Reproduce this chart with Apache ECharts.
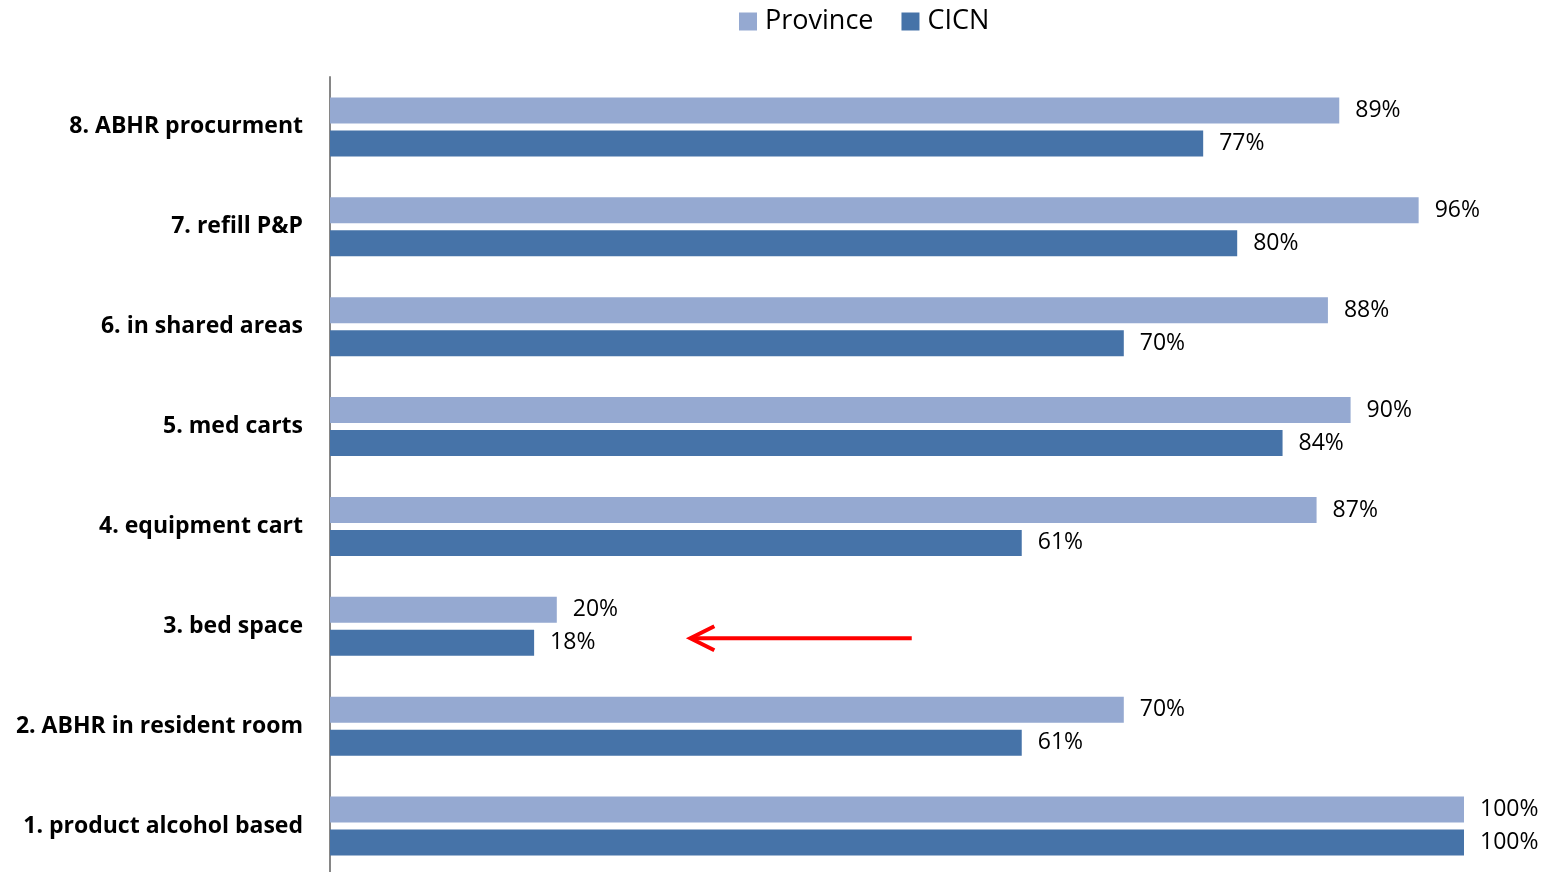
<!DOCTYPE html>
<html>
<head>
    <meta charset="utf-8">
    <title>ECharts</title>
    <script src="https://cdn.jsdelivr.net/npm/echarts@6/dist/echarts.min.js"></script>
    <style>
        html, body { margin: 0; padding: 0; background: #fff; overflow: hidden; }
    </style>
</head>
<body>
    <!-- a little taller than the window so the last band is not squeezed -->
    <div id="main" style="width: 1548px;height:880px;"></div>
    <script type="text/javascript">
        var myChart = echarts.init(document.getElementById('main'));

        // categories, bottom to top
        var categories = [
            '1. product alcohol based',
            '2. ABHR in resident room',
            '3. bed space',
            '4. equipment cart',
            '5. med carts',
            '6. in shared areas',
            '7. refill P&P',
            '8. ABHR procurment'
        ];
        var province = [100, 70, 20, 87, 90, 88, 96, 89];
        var cicn = [100, 61, 18, 61, 84, 70, 80, 77];

        // red arrow annotation (value, category): tail -> head
        var arrowTail = [51.3, '3. bed space'];
        var arrowHead = [31.6, '3. bed space'];

        var fontFamily = '"Open Sans", sans-serif';

        var labelOpt = {
            show: true,
            position: 'right',
            distance: 16,
            color: '#000',
            fontSize: 23,
            fontFamily: fontFamily,
            formatter: '{c}%'
        };

        option = {
            animation: false,
            backgroundColor: '#fff',
            legend: {
                data: ['Province', 'CICN'],
                top: 3,
                left: 734,
                itemWidth: 18,
                itemHeight: 18,
                itemGap: 28,
                icon: 'rect',
                textStyle: {
                    fontSize: 27,
                    color: '#000',
                    padding: [0, 0, 0, 3],
                    fontFamily: fontFamily
                }
            },
            grid: {
                left: 330,
                right: 84,
                top: 77,
                bottom: 4
            },
            xAxis: {
                type: 'value',
                min: 0,
                max: 100,
                show: false
            },
            yAxis: {
                type: 'category',
                data: categories,
                axisLine: {
                    lineStyle: { color: '#868686', width: 2 }
                },
                axisTick: { show: false },
                axisLabel: {
                    margin: 27,
                    color: '#000',
                    fontSize: 23,
                    fontWeight: 'bold',
                    fontFamily: fontFamily
                }
            },
            series: [{
                name: 'Province',
                type: 'bar',
                barGap: '27%',
                barCategoryGap: '41%',
                itemStyle: { color: '#95A9D1' },
                label: labelOpt,
                data: province
            }, {
                name: 'CICN',
                type: 'bar',
                barGap: '27%',
                barCategoryGap: '41%',
                itemStyle: { color: '#4673A8' },
                label: labelOpt,
                data: cicn
            }]
        };

        myChart.setOption(option);

        // draw the arrow next to the CICN bar of "3. bed space"
        var p1 = myChart.convertToPixel({ gridIndex: 0 }, arrowTail);
        var p2 = myChart.convertToPixel({ gridIndex: 0 }, arrowHead);
        var dy = 12;
        myChart.setOption({
            graphic: [{
                type: 'line',
                shape: { x1: p1[0], y1: p1[1] + dy, x2: p2[0] + 3, y2: p2[1] + dy },
                style: { stroke: '#FF0000', lineWidth: 4 }
            }, {
                type: 'polyline',
                shape: {
                    points: [
                        [p2[0] + 26, p2[1] + dy - 12],
                        [p2[0] + 2, p2[1] + dy],
                        [p2[0] + 26, p2[1] + dy + 12]
                    ]
                },
                style: { stroke: '#FF0000', lineWidth: 4, fill: null, lineJoin: 'miter' }
            }]
        });
    </script>
</body>
</html>
